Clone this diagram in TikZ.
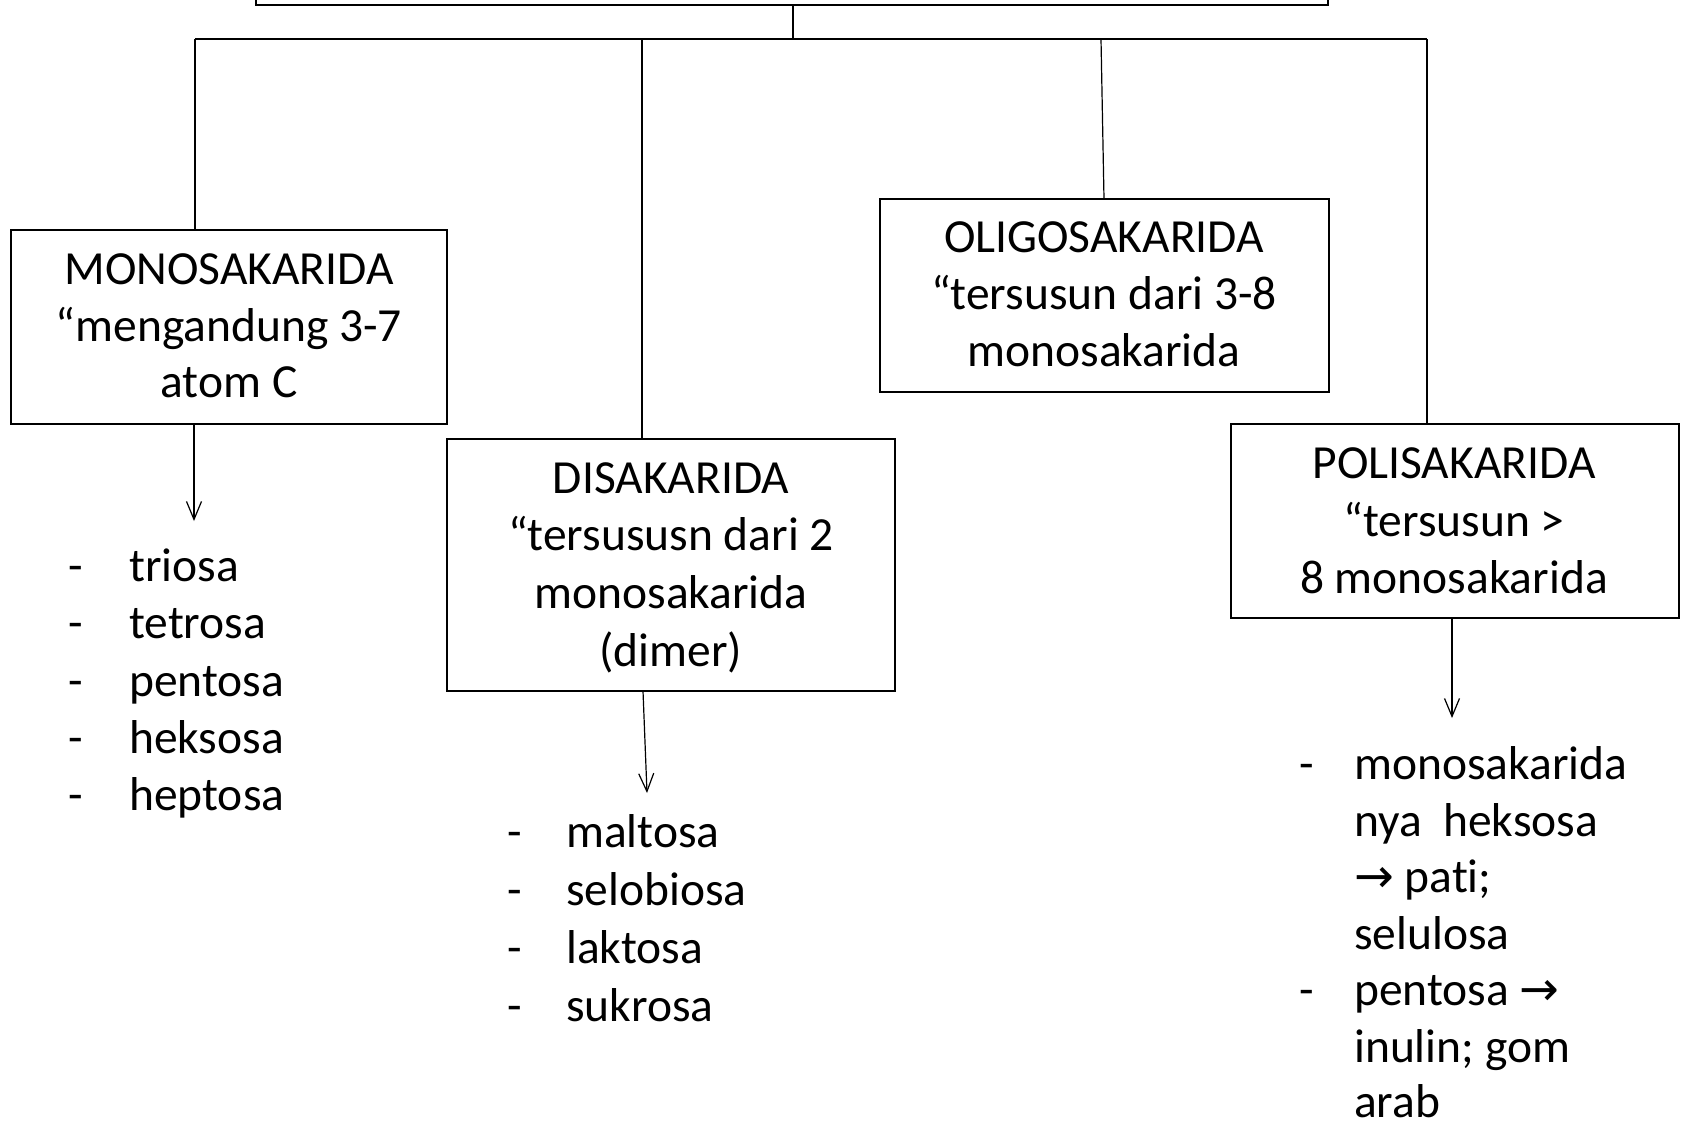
\documentclass[tikz,border=0pt]{standalone}
\usepackage{fontspec}
\setmainfont{Carlito}[Ligatures={NoCommon,NoContextual}]
\newfontfamily\arrowfont{DejaVu Sans}
\usetikzlibrary{arrows.meta}
\begin{document}
\begin{tikzpicture}[x=1pt,y=-1pt,
  boxstyle/.style={draw, line width=1.8pt, rectangle, inner sep=0pt},
  txt/.style={font=\fontsize{47.5}{57}\selectfont, inner sep=0pt, anchor=base},
  item/.style={txt, anchor=base west},
  conn/.style={line width=1.2pt},
  arr/.style={conn, -{Straight Barb[length=18pt,width=15pt,line width=1.2pt]}}]
\useasboundingbox (0,0) rectangle (1684,1125);
% boxes
\node[boxstyle, minimum width=1072pt, minimum height=100pt] (top) at (792,-45) {};
\node[boxstyle, minimum width=436pt, minimum height=194pt] (mono) at (229,327) {};
\node[boxstyle, minimum width=448pt, minimum height=252pt] (dis) at (671,565) {};
\node[boxstyle, minimum width=449pt, minimum height=193pt] (oligo) at (1104.5,295.5) {};
\node[boxstyle, minimum width=448pt, minimum height=194pt] (poli) at (1455,521) {};
% box texts
\node[txt] (m1) at (229,284) {MONOSAKARIDA};
\node[txt] (m2) at (229,341) {“mengandung 3-7};
\node[txt] (m3) at (229,397) {atom C};
\node[txt] (o1) at (1104,252) {OLIGOSAKARIDA};
\node[txt] (o2) at (1104,309) {“tersusun dari 3-8};
\node[txt] (o3) at (1104,366) {monosakarida};
\node[txt] (d1) at (671,493) {DISAKARIDA};
\node[txt] (d2) at (671,550) {“tersususn dari 2};
\node[txt] (d3) at (671,608) {monosakarida};
\node[txt] (d4) at (671,666) {(dimer)};
\node[txt] (p1) at (1454,478) {POLISAKARIDA};
\node[txt] (p2) at (1454,536) {“tersusun >};
\node[txt] (p3) at (1454,593) {8 monosakarida};
% tree connectors
\coordinate (hub) at (793,39);
\coordinate (b1) at (195,39);
\coordinate (b2) at (642,39);
\coordinate (b3) at (1101,39);
\coordinate (b4) at (1427,39);
\coordinate (o3top) at (1104,199);
\draw[conn] (top.south -| hub) -- (hub);
\draw[conn] (b1) -- (b4);
\draw[conn] (b1) -- (b1 |- mono.north);
\draw[conn] (b2) -- (b2 |- dis.north);
\draw[conn] (b3) -- (o3top);
\draw[conn] (b4) -- (b4 |- poli.north);
% arrows to lists
\coordinate (ma) at (194,424);
\coordinate (mb) at (194,521);
\coordinate (da) at (643,691);
\coordinate (db) at (647,793);
\coordinate (pa) at (1452,618);
\coordinate (pb) at (1452,718);
\draw[arr] (ma) -- (mb);
\draw[arr] (da) -- (db);
\draw[arr] (pa) -- (pb);
% mono list
\foreach \y/\t [count=\i] in {581/triosa,638/tetrosa,696/pentosa,753/heksosa,810/heptosa}{
  \node[item] (mdash\i) at (68,\y) {-};
  \node[item] (mitem\i) at (129,\y) {\t};
}
% dis list
\foreach \y/\t [count=\i] in {847/maltosa,905/selobiosa,963/laktosa,1021/sukrosa}{
  \node[item] (ddash\i) at (507,\y) {-};
  \node[item] (ditem\i) at (566,\y) {\t};
}
% poli list
\node[item] (pdash1) at (1299,779) {-};
\node[item] (pl1) at (1354,779) {monosakarida};
\node[item] (pl2) at (1354,836) {nya\ \ heksosa};
\node[item] (pl3) at (1354,892) {{\arrowfont →} pati;};
\node[item] (pl4) at (1354,949) {selulosa};
\node[item] (pdash2) at (1299,1005) {-};
\node[item] (pl5) at (1354,1005) {pentosa {\arrowfont →}};
\node[item] (pl6) at (1354,1062) {inulin; gom};
\node[item] (pl7) at (1354,1117) {arab};
\end{tikzpicture}
\end{document}
